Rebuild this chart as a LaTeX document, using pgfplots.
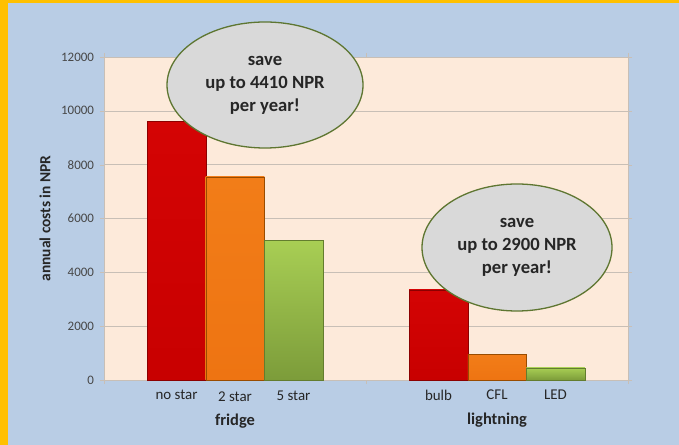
\documentclass[border=0pt]{standalone}
\usepackage{pgfplots}
\pgfplotsset{compat=1.18}
\usepackage{fontspec}
\setmainfont{Carlito}
\usetikzlibrary{shapes.geometric}
\definecolor{frame}{HTML}{FFC000}
\definecolor{bg}{HTML}{B9CDE5}
\definecolor{plotbg}{HTML}{FDEADA}
\definecolor{gridc}{HTML}{C8BFB6}
\definecolor{ellfill}{HTML}{D9D9D9}
\definecolor{elldraw}{HTML}{5E7631}
\definecolor{redtop}{HTML}{D40404}
\definecolor{redbot}{HTML}{C80000}
\definecolor{ortop}{HTML}{F27D18}
\definecolor{orbot}{HTML}{EE7412}
\definecolor{grtop}{HTML}{A8CE54}
\definecolor{grbot}{HTML}{7C9C3A}
\definecolor{txt}{HTML}{262626}
\begin{document}
\begin{tikzpicture}
\fill[frame] (0,0) rectangle (679bp,445bp);
\fill[bg] (8bp,0) rectangle (679bp,442bp);
\begin{axis}[
  at={(104bp,65bp)}, anchor=south west,
  scale only axis, width=524bp, height=323bp,
  xmin=0.5, xmax=2.5, ymin=0, ymax=12000,
  clip=false,
  axis background/.style={fill=plotbg},
  axis line style={draw=gridc},
  ytick={0,2000,...,12000},
  scaled y ticks=false,
  xtick={0.5,1.5,2.5}, xticklabels={},
  ymajorgrids, grid style={draw=gridc, line width=0.6pt},
  tick align=outside, major tick length=4bp,
  tick style={draw=gridc},
  /pgf/number format/.cd, set thousands separator={}, assume math mode=true,
  /pgfplots/.cd,
  yticklabel style={font=\fontsize{13}{15}\selectfont, text=txt!85!white, xshift=-2.5bp},
  ylabel={annual costs in NPR},
  ylabel style={at={(axis description cs:-0.1126,0.5)}, anchor=center, font=\bfseries\fontsize{15.5}{17}\selectfont, text=txt},
]
\addplot[ybar, bar width=0.2233, bar shift=0pt, top color=redtop, bottom color=redbot, draw=red!55!black, line width=0.4pt] coordinates {(0.7767,9600)};
\addplot[ybar, bar width=0.2233, bar shift=0pt, top color=ortop, bottom color=orbot, draw=orange!60!black, line width=0.4pt] coordinates {(1.0,7550)};
\addplot[ybar, bar width=0.2233, bar shift=0pt, top color=grtop, bottom color=grbot, draw=grbot!80!black, line width=0.4pt] coordinates {(1.2233,5190)};
\addplot[ybar, bar width=0.2233, bar shift=0pt, top color=redtop, bottom color=redbot, draw=red!55!black, line width=0.4pt] coordinates {(1.7767,3350)};
\addplot[ybar, bar width=0.2233, bar shift=0pt, top color=ortop, bottom color=orbot, draw=orange!60!black, line width=0.4pt] coordinates {(2.0,950)};
\addplot[ybar, bar width=0.2233, bar shift=0pt, top color=grtop, bottom color=grbot, draw=grbot!80!black, line width=0.4pt] coordinates {(2.2233,450)};
\begin{scope}[every node/.style={font=\fontsize{15}{17}\selectfont, text=txt}]
\node at (axis cs:0.7767,0) [yshift=-15bp] {no star};
\node at (axis cs:1.0,0) [yshift=-17bp] {2 star};
\node at (axis cs:1.2233,0) [yshift=-16bp] {5 star};
\node at (axis cs:1.7767,0) [yshift=-15bp] {bulb};
\node at (axis cs:2.0,0) [yshift=-15bp] {CFL};
\node at (axis cs:2.2233,0) [yshift=-15bp] {LED};
\end{scope}
\node[font=\bfseries\fontsize{16.5}{18}\selectfont, text=txt] at (axis cs:1.0,0) [yshift=-41bp] {fridge};
\node[font=\bfseries\fontsize{16.5}{18}\selectfont, text=txt] at (axis cs:2.0,0) [yshift=-40bp] {lightning};
\end{axis}
\node[ellipse, draw=elldraw, line width=1.3bp, fill=ellfill, minimum width=196bp, minimum height=126bp, inner sep=0pt, align=center, text=txt, font=\bfseries\fontsize{18.7}{23}\selectfont] at (265bp,360bp) {save\\up to 4410 NPR\\per year!};
\node[ellipse, draw=elldraw, line width=1.3bp, fill=ellfill, minimum width=190bp, minimum height=127bp, inner sep=0pt, align=center, text=txt, font=\bfseries\fontsize{18.7}{23}\selectfont] at (517bp,197.5bp) {save\\up to 2900 NPR\\per year!};
\end{tikzpicture}
\end{document}
